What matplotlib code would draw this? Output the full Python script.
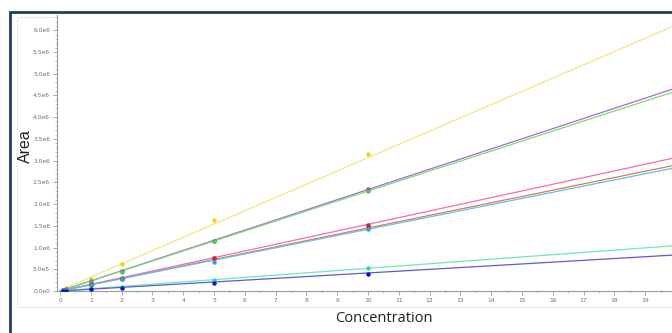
import matplotlib.pyplot as plt
from matplotlib.patches import Rectangle
from matplotlib.ticker import MultipleLocator

# concentrations of the standards
conc = [0.1, 0.2, 1, 2, 5, 10]

yellow_pts = [30000, 60000, 280000, 615000, 1630000, 3150000]
purple_pts = [22000, 45000, 230000, 450000, 1160000, 2340000]
green_pts = [22000, 45000, 210000, 440000, 1140000, 2310000]
pink_pts = [15000, 30000, 150000, 290000, 760000, 1510000]
red_pts = [14000, 28000, 145000, 280000, 755000, 1490000]
cyan_pts = [14000, 28000, 140000, 270000, 670000, 1420000]
aqua_pts = [5000, 10000, 55000, 100000, 250000, 530000]
blue_pts = [4000, 8000, 35000, 65000, 185000, 400000]

# calibration lines, read as values at x = 0 and x = 20
line_x = [0, 20]
yellow_line = [15000, 6120000]
purple_line = [0, 4670000]
green_line = [0, 4600000]
pink_line = [0, 3070000]
red_line = [0, 2900000]
cyan_line = [0, 2840000]
aqua_line = [0, 1045000]
blue_line = [0, 830000]

yticks = [0, 0.5e6, 1.0e6, 1.5e6, 2.0e6, 2.5e6, 3.0e6, 3.5e6, 4.0e6, 4.5e6, 5.0e6, 5.5e6, 6.0e6]
ytick_labels = ['0.0e0', '5.0e5', '1.0e6', '1.5e6', '2.0e6', '2.5e6', '3.0e6',
                '3.5e6', '4.0e6', '4.5e6', '5.0e6', '5.5e6', '6.0e6']
xticks = list(range(0, 20))

series = [
    (yellow_pts, yellow_line, '#f2d21a', '#f5e48a'),
    (purple_pts, purple_line, '#9a3fc8', '#a868d8'),
    (green_pts, green_line, '#3fd33f', '#7fdc6a'),
    (pink_pts, pink_line, '#d62a7a', '#ee6fb2'),
    (red_pts, red_line, '#d8202e', '#e0785a'),
    (cyan_pts, cyan_line, '#2ea0e4', '#5cc4e4'),
    (aqua_pts, aqua_line, '#2fe0a0', '#6fe8b8'),
    (blue_pts, blue_line, '#0a14c8', '#5a5ad8'),
]

fig = plt.figure(figsize=(6.72, 3.33), dpi=100)
ax = fig.add_axes([57 / 672, 42 / 333, 1 - 57 / 672, 276 / 333])

for pts, ln, pcol, lcol in series:
    ax.plot(line_x, ln, color=lcol, lw=0.9, zorder=2)
    ax.plot(conc, pts, 'o', color=pcol, ms=3.2, mew=0, zorder=3)

ax.set_xlim(-0.1, 19.87)
ax.set_ylim(0, 6.35e6)
ax.set_yticks(yticks)
ax.set_yticklabels(ytick_labels)
ax.set_xticks(xticks)
ax.set_xticklabels([str(t) for t in xticks])
ax.yaxis.set_minor_locator(MultipleLocator(1e5))
ax.xaxis.set_minor_locator(MultipleLocator(0.5))

for s in ['top', 'right']:
    ax.spines[s].set_visible(False)
for s in ['left', 'bottom']:
    ax.spines[s].set_color('#9a9a9a')
    ax.spines[s].set_linewidth(0.8)
ax.tick_params(which='major', length=3, width=0.6, color='#9a9a9a',
               labelsize=4.3, labelcolor='#707070', pad=2)
ax.tick_params(which='minor', length=1.5, width=0.5, color='#b0b0b0')

fig.text(25 / 672, 1 - 146 / 333, 'Area', rotation=90, ha='center', va='center',
         fontsize=11.5, family='Liberation Sans', color='#222222')
fig.text(384 / 672, 1 - 318 / 333, 'Concentration', ha='center', va='center',
         fontsize=10.5, family='Open Sans', color='#222222')

# faint chart panel and dark slide frame
fig.add_artist(Rectangle((17 / 672, 26 / 333), 1.2, 1 - 26 / 333 - 17 / 333,
                         transform=fig.transFigure, fill=False,
                         edgecolor='#ececec', lw=0.8, zorder=0))
fig.add_artist(Rectangle((10 / 672, -0.2), 1.2, 1.2 - 12 / 333,
                         transform=fig.transFigure, fill=False,
                         edgecolor='#223d5e', lw=2.0, zorder=5))

fig.savefig('out.png', dpi=100)
